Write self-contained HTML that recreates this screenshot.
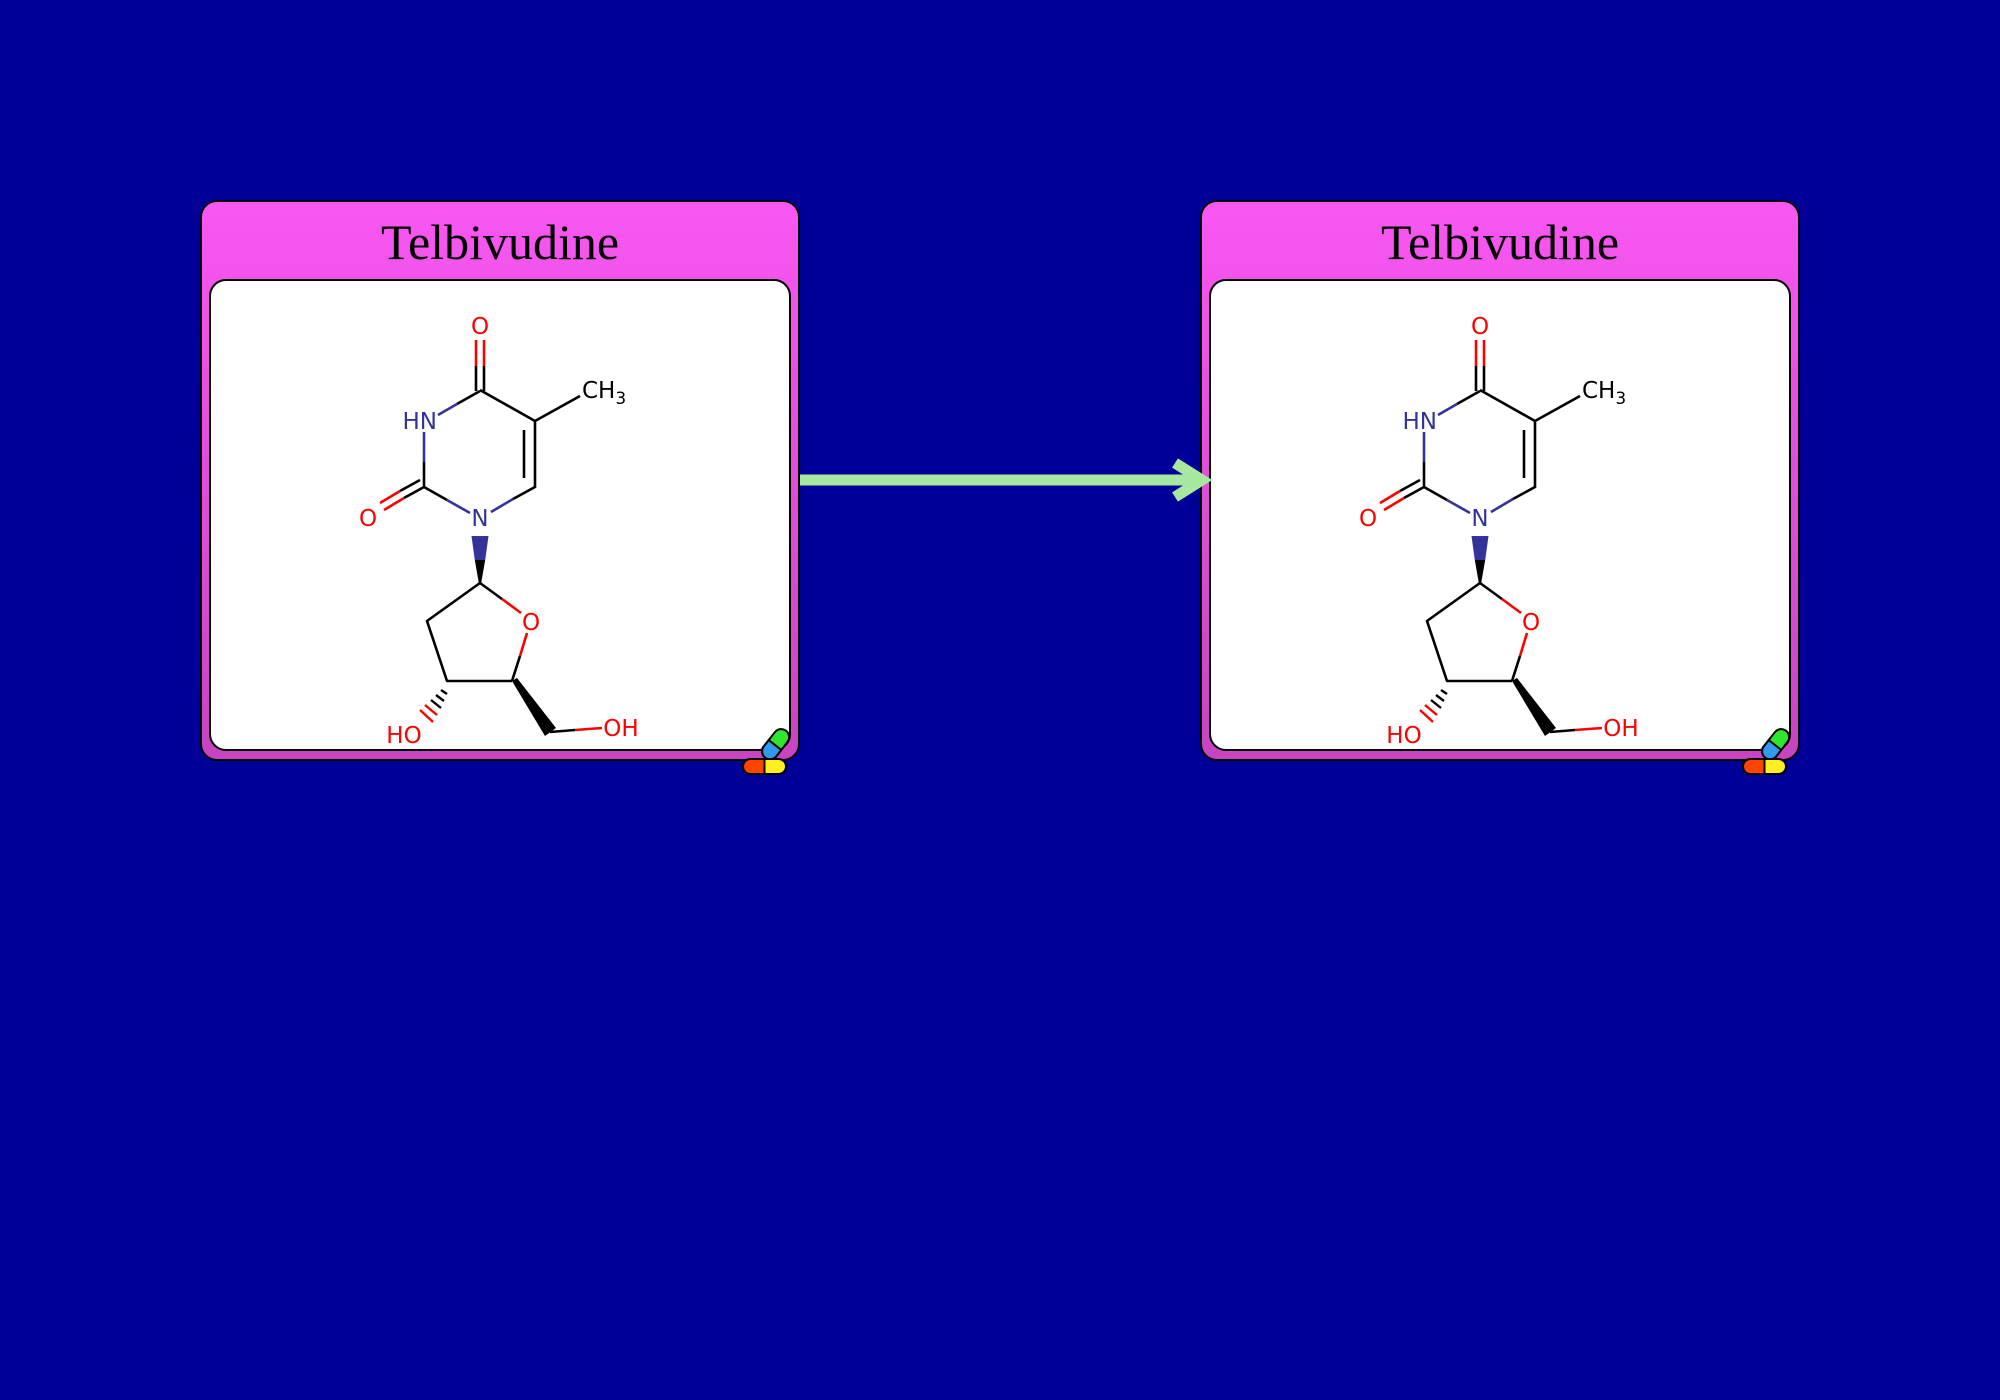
<!DOCTYPE html>
<html><head><meta charset="utf-8"><style>
html,body{margin:0;padding:0;background:#000099;}
svg{display:block}
text{font-family:"DejaVu Sans","Liberation Sans",sans-serif;font-size:23px}
</style></head><body>
<svg width="2000" height="1400" viewBox="0 0 2000 1400" xmlns="http://www.w3.org/2000/svg">
<defs>
<linearGradient id="g" x1="0" y1="0" x2="0" y2="1">
<stop offset="0" stop-color="#f957f2"/><stop offset="1" stop-color="#c844c0"/>
</linearGradient>
<g id="mol" stroke-width="2.6" fill="none" stroke-linecap="butt">
 <line x1="476" y1="391" x2="476" y2="366" stroke="#000"/><line x1="476" y1="366" x2="476" y2="340" stroke="#f00"/>
 <line x1="484" y1="391" x2="484" y2="366" stroke="#000"/><line x1="484" y1="366" x2="484" y2="340" stroke="#f00"/>
 <line x1="480" y1="391" x2="457" y2="404" stroke="#000"/><line x1="457" y1="404" x2="438" y2="415" stroke="#333399"/>
 <line x1="424" y1="432" x2="424" y2="462" stroke="#333399"/><line x1="424" y1="462" x2="424" y2="487" stroke="#000"/>
 <line x1="424" y1="487" x2="404" y2="498" stroke="#000"/><line x1="404" y1="498" x2="384" y2="510" stroke="#f00"/>
 <line x1="420" y1="480" x2="400" y2="491" stroke="#000"/><line x1="400" y1="491" x2="380" y2="503" stroke="#f00"/>
 <line x1="424" y1="487" x2="447" y2="500" stroke="#000"/><line x1="447" y1="500" x2="470" y2="513" stroke="#333399"/>
 <line x1="491" y1="512" x2="513" y2="499" stroke="#333399"/><line x1="513" y1="499" x2="535" y2="487" stroke="#000"/>
 <line x1="535" y1="488" x2="535" y2="421" stroke="#000"/><line x1="524" y1="478" x2="524" y2="430" stroke="#000"/>
 <line x1="535" y1="421" x2="480" y2="390" stroke="#000"/>
 <line x1="535" y1="421" x2="580" y2="396" stroke="#000"/>
 <polyline points="480,583 427,621 447,681 512,681" stroke="#000" stroke-linejoin="round"/>
 <line x1="480" y1="583" x2="502" y2="599" stroke="#000"/><line x1="502" y1="599" x2="521" y2="613" stroke="#f00"/>
 <line x1="527" y1="633" x2="520" y2="656" stroke="#f00"/><line x1="520" y1="656" x2="512" y2="681" stroke="#000"/>
 <line x1="550" y1="732" x2="575" y2="730" stroke="#000"/><line x1="575" y1="730" x2="602" y2="728" stroke="#f00"/>
</g>
<g id="molf">
 <polygon points="471.5,536 488.5,536 485.2,560 474.8,560" fill="#333399"/>
 <polygon points="474.8,560 485.2,560 481,584 479,584" fill="#000"/>
 <polygon points="512,681 517,678 556,728 545,736" fill="#000"/>
 <g stroke-width="2.4">
  <line x1="441" y1="690" x2="447" y2="694" stroke="#000"/>
  <line x1="436" y1="695" x2="444" y2="701" stroke="#000"/>
  <line x1="431" y1="700" x2="441" y2="708" stroke="#000"/>
  <line x1="425" y1="705" x2="437" y2="715" stroke="#f00"/>
  <line x1="420" y1="710" x2="433" y2="722" stroke="#f00"/>
 </g>
 <text x="480" y="334" text-anchor="middle" fill="#f00">O</text>
 <text x="437" y="429" text-anchor="end" fill="#333399">HN</text>
 <text x="480" y="526" text-anchor="middle" fill="#333399">N</text>
 <text x="368" y="526" text-anchor="middle" fill="#f00">O</text>
 <text x="582" y="398" fill="#000">CH<tspan font-size="17" dy="6">3</tspan></text>
 <text x="531" y="630" text-anchor="middle" fill="#f00">O</text>
 <text x="404" y="743" text-anchor="middle" fill="#f00">HO</text>
 <text x="621" y="736" text-anchor="middle" fill="#f00">OH</text>
</g>
<g id="box">
 <rect x="201" y="201" width="598" height="559" rx="16" fill="url(#g)" stroke="#000" stroke-width="2"/>
 <rect x="210" y="280" width="580" height="470" rx="16" fill="#fff" stroke="#000" stroke-width="2"/>
 <text x="500" y="259" text-anchor="middle" style="font-family:'Liberation Serif',serif;font-size:50px" fill="#000">Telbivudine</text>
 <g stroke="#000" stroke-width="2">
  <g transform="rotate(-52 775 745)">
   <rect x="759" y="737" width="34" height="16" rx="8" fill="#2ee62e"/>
   <path d="M767,737 a8,8 0 0 0 0,16 h8 v-16 z" fill="#3399ee"/>
  </g>
  <rect x="743" y="759" width="43" height="15" rx="7.5" fill="#ffee22"/>
  <path d="M764.5,759 h-14 a7.5,7.5 0 0 0 0,15 h14 z" fill="#ff4400"/>
 </g>
</g>
</defs>
<rect width="2000" height="1400" fill="#000099"/>
<use href="#box"/>
<use href="#mol"/><use href="#molf"/>
<g transform="translate(1000,0)"><use href="#box"/><use href="#mol"/><use href="#molf"/></g>
<line x1="800" y1="480" x2="1200" y2="480" stroke="#a6e8a0" stroke-width="11"/>
<polyline points="1175,463 1202,480 1175,497" fill="none" stroke="#a6e8a0" stroke-width="11"/>
</svg>
</body></html>
